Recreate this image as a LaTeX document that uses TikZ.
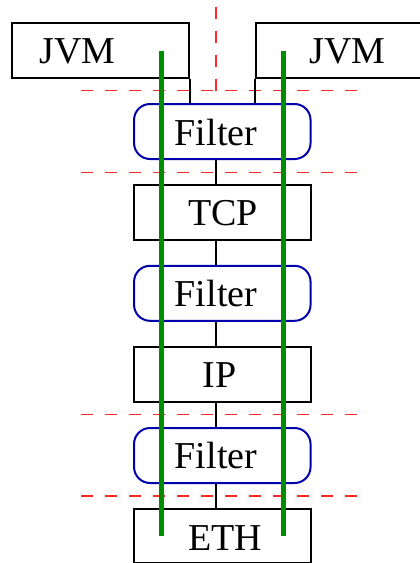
\documentclass[tikz,border=0pt]{standalone}
\usepackage{fontspec}
\setmainfont{Liberation Serif}
\definecolor{filtblue}{RGB}{0,0,170}
\definecolor{pathgreen}{RGB}{0,140,0}
\definecolor{sepred}{RGB}{255,40,40}
\begin{document}
\begin{tikzpicture}[x=1pt,y=-1pt,
  layerbox/.style={draw=black,line width=2pt,minimum width=176.5pt,minimum height=55pt,inner sep=0pt},
  filterbox/.style={draw=filtblue,line width=2pt,rounded corners=16pt,minimum width=176.5pt,minimum height=55pt,inner sep=0pt},
  lbl/.style={anchor=base,inner sep=0pt,font=\fontsize{38}{40}\selectfont},
  conn/.style={draw=black,line width=2pt},
  sep/.style={draw=sepred,line width=1.5pt,dash pattern=on 11.8pt off 12.2pt},
  route/.style={draw=pathgreen,line width=5pt}]
\useasboundingbox (0,0) rectangle (420,563);
\coordinate (axis) at (216,0);
% separators
\coordinate (v1) at (216,6.7);
\coordinate (v2) at (216,90.7);
\draw[sep] (v1) -- (v2);
\coordinate (h1a) at (80.7,90.7);  \coordinate (h1b) at (357,90.7);
\coordinate (h2a) at (80.7,172.3); \coordinate (h2b) at (357,172.3);
\coordinate (h3a) at (80.7,414.3); \coordinate (h3b) at (357,414.3);
\coordinate (h4a) at (80.7,496);   \coordinate (h4b) at (357,496);
\draw[sep] (h1a) -- (h1b);
\draw[sep] (h2a) -- (h2b);
\draw[sep] (h3a) -- (h3b);
\draw[sep] (h4a) -- (h4b);
% boxes
\node[layerbox,minimum width=177pt] (jvmL) at (100.7,50.8) {};
\node[layerbox,minimum width=177pt] (jvmR) at (344.5,50.8) {};
\node[filterbox] (f1) at (222.3,131.5) {};
\node[layerbox] (tcp) at (222.3,212.5) {};
\node[filterbox] (f2) at (222.3,293.3) {};
\node[layerbox] (ip) at (222.3,374.7) {};
\node[filterbox] (f3) at (222.3,455.5) {};
\node[layerbox,minimum height=54pt] (eth) at (222.3,536) {};
% labels
\node[lbl] (tjvmL) at (77.5,63.3) {JVM};
\node[lbl] (tjvmR) at (347.5,63.3) {JVM};
\node[lbl] (tf1) at (216,145) {Filter};
\node[lbl] (ttcp) at (223,225.7) {TCP};
\node[lbl] (tf2) at (216,306.7) {Filter};
\node[lbl] (tip) at (219.5,387.7) {IP};
\node[lbl] (tf3) at (216,468.3) {Filter};
\node[lbl] (teth) at (225,550) {ETH};
% connectors
\draw[conn] (jvmL.south east) -- (jvmL.south east |- f1.north);
\draw[conn] (jvmR.south west) -- (jvmR.south west |- f1.north);
\draw[conn] (f1.south -| axis) -- (tcp.north -| axis);
\draw[conn] (tcp.south -| axis) -- (f2.north -| axis);
\draw[conn] (f2.south -| axis) -- (ip.north -| axis);
\draw[conn] (ip.south -| axis) -- (f3.north -| axis);
\draw[conn] (f3.south -| axis) -- (eth.north -| axis);
% green paths
\coordinate (g1a) at (161,51); \coordinate (g1b) at (161,535.5);
\coordinate (g2a) at (283,51); \coordinate (g2b) at (283,535.5);
\draw[route] (g1a) -- (g1b);
\draw[route] (g2a) -- (g2b);
\end{tikzpicture}
\end{document}
